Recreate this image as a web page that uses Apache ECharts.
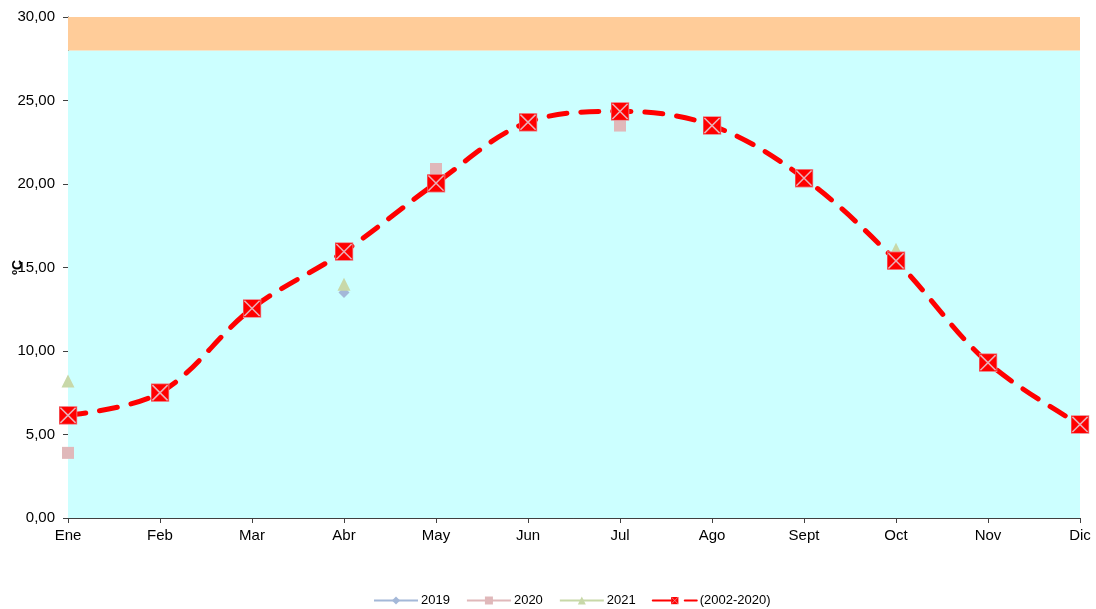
<!DOCTYPE html>
<html>
<head>
<meta charset="utf-8">
<script src="https://cdn.jsdelivr.net/npm/echarts@6/dist/echarts.min.js"></script>
<style>html,body{margin:0;padding:0;background:#fff}#c{width:1096px;height:609px}</style>
</head>
<body>
<div id="c"></div>
<script>
const months = ['Ene','Feb','Mar','Abr','May','Jun','Jul','Ago','Sept','Oct','Nov','Dic'];
const s2019 = [null,null,null,13.5,null,null,null,null,null,null,null,null];
const s2020 = [3.9,null,null,null,20.9,null,23.5,null,null,null,null,null];
const s2021 = [8.2,null,null,14.0,null,null,null,null,null,16.1,null,null];
const mean0220 = [6.15,7.5,12.55,15.95,20.05,23.7,24.35,23.5,20.35,15.4,9.3,5.6];
const yTicks = [0,5,10,15,20,25,30];
const coolBand = [0, 28];
const warmBand = [28, 30];

const markerSvg = 'data:image/svg+xml;utf8,' + encodeURIComponent(
  '<svg xmlns="http://www.w3.org/2000/svg" width="20" height="20" viewBox="0 0 20 20">' +
  '<rect x="0.5" y="0.5" width="19" height="19" fill="#ff0000" stroke="#e8a0a8" stroke-width="1"/>' +
  '<path d="M2 2 L18 18 M18 2 L2 18" stroke="#e8b0b8" stroke-width="1.6"/></svg>');

const chart = echarts.init(document.getElementById('c'));
chart.setOption({
  animation: false,
  textStyle: { fontFamily: 'Liberation Sans, Arial, sans-serif' },
  grid: { left: 68, right: 16, top: 17, bottom: 91, containLabel: false, outerBoundsMode: 'none' },
  legend: {
    bottom: -3, left: 368, itemWidth: 44, itemHeight: 10, itemGap: 16,
    textStyle: { fontSize: 13, color: '#000', padding: [0, 0, 0, -2] },
    data: ['2019','2020','2021','(2002-2020)']
  },
  xAxis: {
    type: 'category', data: months, boundaryGap: false,
    axisLine: { lineStyle: { color: '#404040', width: 1 } },
    axisTick: { show: true, alignWithLabel: true, length: 5, lineStyle: { color: '#404040' } },
    axisLabel: { color: '#000', fontSize: 15, margin: 10 },
    splitLine: { show: false }
  },
  yAxis: {
    type: 'value', min: yTicks[0], max: yTicks[yTicks.length-1], interval: 5,
    name: 'ºC', nameLocation: 'middle', nameGap: 43, nameRotate: 90, nameMoveOverlap: false,
    nameTextStyle: { color: '#000', fontSize: 14, fontWeight: 'bold' },
    axisLine: { show: true, lineStyle: { color: '#404040' } },
    axisTick: { show: true, length: 5, lineStyle: { color: '#404040' } },
    axisLabel: { color: '#000', fontSize: 15, margin: 13,
      formatter: v => v.toFixed(2).replace('.', ',') },
    splitLine: { show: false }
  },
  series: [
    {
      name: '2019', type: 'line', data: s2019, symbol: 'diamond', symbolSize: 11,
      showAllSymbol: true, connectNulls: false,
      itemStyle: { color: '#a4b8d8' }, lineStyle: { color: '#a4b8d8', width: 2.5 },
      markArea: {
        silent: true,
        data: [
          [{ yAxis: coolBand[0], itemStyle: { color: '#ccffff' } }, { yAxis: coolBand[1] }],
          [{ yAxis: warmBand[0], itemStyle: { color: '#ffcc99' } }, { yAxis: warmBand[1] }]
        ]
      },
      z: 3
    },
    {
      name: '2020', type: 'line', data: s2020, symbol: 'rect', symbolSize: 12,
      showAllSymbol: true, connectNulls: false,
      itemStyle: { color: '#e0b8ba' }, lineStyle: { color: '#e0b8ba', width: 2.5 }, z: 3
    },
    {
      name: '2021', type: 'line', data: s2021, symbol: 'triangle', symbolSize: 13,
      showAllSymbol: true, connectNulls: false,
      itemStyle: { color: '#c8d8a8' }, lineStyle: { color: '#c8d8a8', width: 2.5 }, z: 3
    },
    {
      name: '(2002-2020)', type: 'line', data: mean0220, smooth: 0.35,
      symbol: 'image://' + markerSvg, symbolSize: 19, showAllSymbol: true,
      itemStyle: { color: '#ff0000' },
      lineStyle: { color: '#ff0000', width: 5, type: [18, 14], cap: 'round' },
      z: 4
    }
  ]
});
</script>
</body>
</html>
